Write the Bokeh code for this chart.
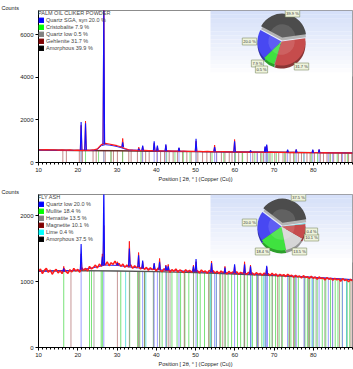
import numpy as np
from bokeh.plotting import figure
from bokeh.layouts import column
from bokeh.models import Range1d, FixedTicker, Label, Legend, LegendItem
from bokeh.embed import file_html
from bokeh.resources import INLINE

FONT = "Liberation Sans"

# ---------------- shared 2θ axis ----------------
X_START, X_END = 10, 90
X_TICKS = [10, 20, 30, 40, 50, 60, 70, 80]
X_MINOR = list(range(10, 91))
X_LABEL = "Position [ 2θ, ° ] (Copper (Cu))"

# ---------------- sample 1: palm oil clinker powder ----------------
pc_title = "PALM OIL CLIKER POWDER"
pc_phases = ["Quartz SGA, syn", "Cristobalite", "Quartz low", "Gehlenite", "Amorphous"]
pc_percent = [20.0, 7.9, 0.5, 31.7, 39.9]
pc_yticks = [0, 2000, 4000, 6000]

# observed scan, sampled every 1°
pc_obs_2theta = list(range(10, 91))
pc_obs_counts = [600, 595, 605, 590, 600, 585, 595, 580, 590, 575,
                 585, 570, 580, 575, 590, 640, 840, 900, 870, 830,
                 790, 740, 660, 600, 580, 570, 565, 575, 555, 560,
                 545, 550, 540, 545, 535, 540, 530, 535, 525, 530,
                 520, 525, 515, 520, 510, 515, 505, 510, 500, 505,
                 495, 500, 490, 495, 488, 492, 482, 488, 480, 485,
                 475, 480, 472, 478, 468, 474, 465, 470, 462, 468,
                 458, 464, 455, 460, 452, 458, 450, 455, 448, 452, 445]
# fitted background
pc_bg_2theta = [10, 20, 30, 40, 50, 60, 70, 80, 90]
pc_bg_counts = [585, 568, 550, 530, 512, 496, 480, 466, 450]
# calculated profile between the peaks
pc_calc_2theta = [10, 20, 24, 25, 26, 27, 28, 29, 30, 31, 32, 33, 40, 50, 60, 70, 80, 90]
pc_calc_counts = [588, 570, 575, 615, 790, 840, 820, 790, 750, 700, 635, 592, 545, 515, 498, 483, 468, 452]
# reflections: position, local background, observed top, calculated top
pc_peak_pos = [20.86, 21.98, 26.64, 31.45, 35.55, 36.54, 39.47, 40.29, 42.45, 45.79,
               50.14, 54.87, 59.96, 64.03, 67.74, 68.14, 73.47, 75.66, 79.88, 81.49]
pc_peak_base = [585, 580, 860, 720, 570, 565, 558, 545, 540, 538,
                520, 512, 495, 490, 485, 482, 476, 470, 458, 462]
pc_peak_obs = [1750, 1950, 7600, 1130, 720, 760, 900, 740, 800, 680,
               1000, 820, 1080, 560, 720, 800, 580, 600, 590, 600]
pc_peak_calc = [1900, 1850, 7600, 950, 650, 800, 1000, 800, 850, 700,
                1120, 720, 1000, 560, 760, 850, 600, 620, 600, 620]
# reference patterns (stick positions)
pc_quartz_sga = [20.86, 26.64, 36.54, 39.47, 40.29, 42.45, 45.79, 50.14, 54.87, 55.33,
                 59.96, 64.03, 65.79, 67.74, 68.14, 68.32, 73.47, 75.66, 77.67, 79.88,
                 81.49, 83.84, 84.95, 87.44]
pc_cristobalite = [21.98, 25.3, 28.44, 31.46, 36.08, 42.66, 44.76, 46.9, 48.6, 54.2,
                   57.2, 60.2, 62.0, 65.1, 66.9, 68.7, 69.5, 70.6, 72.7, 75.3,
                   77.6, 79.5, 81.1, 84.3, 86.1, 88.7]
pc_quartz_low = [20.86, 26.64, 50.14, 59.96, 68.14]
pc_gehlenite = [16.2, 17.1, 20.4, 21.2, 23.9, 24.7, 27.0, 28.5, 29.1, 30.1,
                31.4, 33.0, 33.6, 35.2, 36.4, 37.3, 38.2, 40.2, 41.1, 42.1,
                43.3, 44.3, 45.4, 46.7, 47.8, 48.9, 50.6, 51.8, 52.9, 53.8,
                55.4, 56.6, 57.5, 58.6, 59.3, 61.0, 61.9, 63.2, 64.6, 65.7,
                66.6, 67.3, 69.0, 70.2, 71.2, 72.3, 73.0, 74.1, 75.0, 76.2,
                77.0, 78.4, 79.2, 80.3, 81.8, 82.6, 83.5, 84.3, 85.2, 86.4,
                87.2, 88.1, 89.0, 89.8]

# ---------------- sample 2: fly ash ----------------
fa_title = "FLY ASH"
fa_phases = ["Quartz low", "Mullite", "Hematite", "Magnetite", "Lime", "Amorphous"]
fa_percent = [20.0, 18.4, 13.5, 10.1, 0.4, 37.5]
fa_yticks = [0, 1000, 2000]

# observed scan, sampled every 0.5°
fa_obs_2theta = [10 + 0.5 * i for i in range(161)]
fa_obs_counts = [1150, 1190, 1120, 1170, 1200, 1140, 1175, 1110, 1160, 1185,
                 1130, 1165, 1120, 1195, 1150, 1125, 1180, 1145, 1200, 1160,
                 1185, 1140, 1210, 1170, 1200, 1160, 1230, 1190, 1215, 1250,
                 1205, 1265, 1230, 1290, 1250, 1300, 1240, 1285, 1260, 1310,
                 1250, 1275, 1230, 1265, 1215, 1250, 1220, 1255, 1200, 1240,
                 1210, 1235, 1190, 1225, 1185, 1215, 1170, 1210, 1180, 1200,
                 1160, 1205, 1175, 1150, 1195, 1165, 1185, 1140, 1180, 1155,
                 1190, 1145, 1175, 1160, 1135, 1180, 1150, 1170, 1140, 1185,
                 1150, 1165, 1130, 1175, 1145, 1160, 1125, 1170, 1140, 1165,
                 1130, 1155, 1120, 1160, 1135, 1150, 1115, 1155, 1125, 1145,
                 1120, 1150, 1110, 1140, 1125, 1145, 1105, 1140, 1115, 1130,
                 1100, 1135, 1110, 1125, 1095, 1130, 1105, 1120, 1090, 1125,
                 1095, 1115, 1080, 1110, 1090, 1105, 1075, 1110, 1085, 1095,
                 1065, 1095, 1070, 1085, 1055, 1090, 1060, 1075, 1045, 1080,
                 1050, 1070, 1035, 1070, 1045, 1055, 1025, 1060, 1035, 1050,
                 1020, 1050, 1025, 1040, 1005, 1045, 1015, 1030, 995, 1035,
                 1010]
fa_bg_2theta = [10, 20, 30, 40, 50, 60, 70, 80, 90]
fa_bg_counts = [1160, 1165, 1160, 1150, 1135, 1115, 1090, 1060, 1025]
fa_calc_2theta = [10, 20, 24, 27, 30, 34, 40, 50, 60, 70, 80, 90]
fa_calc_counts = [1155, 1170, 1210, 1250, 1245, 1215, 1180, 1150, 1125, 1100, 1065, 1030]
fa_peak_pos = [16.43, 20.86, 26.27, 26.64, 30.10, 33.15, 35.50, 36.54, 39.47, 40.85,
               42.45, 43.05, 49.48, 50.14, 54.09, 57.50, 59.96, 62.50, 64.01, 68.14]
fa_peak_base = [1150, 1180, 1240, 1250, 1250, 1230, 1220, 1200, 1190, 1180,
                1170, 1170, 1150, 1150, 1140, 1130, 1125, 1125, 1115, 1105]
fa_peak_obs = [1230, 1420, 1420, 1850, 1300, 1610, 1440, 1300, 1270, 1350,
               1250, 1260, 1250, 1300, 1310, 1230, 1240, 1300, 1250, 1220]
fa_peak_calc = [1200, 1570, 1380, 2500, 1280, 1500, 1400, 1320, 1280, 1300,
                1240, 1230, 1230, 1340, 1280, 1210, 1260, 1260, 1230, 1240]
fa_quartz_low = [20.86, 26.64, 36.54, 39.47, 40.29, 42.45, 45.79, 50.14, 54.87, 55.33,
                 59.96, 64.03, 65.79, 67.74, 68.14, 68.32, 73.47, 75.66, 77.67, 79.88,
                 81.49, 83.84, 84.95, 87.44]
fa_mullite = [16.43, 23.0, 23.5, 25.97, 26.27, 30.96, 33.23, 35.27, 35.8, 37.0,
              39.27, 40.87, 41.5, 42.59, 44.0, 45.3, 46.2, 47.3, 48.3, 49.5,
              50.5, 51.2, 52.3, 53.44, 54.0, 55.3, 56.4, 57.5, 58.3, 59.2,
              60.7, 61.5, 62.4, 63.2, 64.5, 65.6, 66.9, 67.8, 68.9, 69.5,
              70.4, 71.3, 72.1, 73.8, 74.3, 75.2, 76.2, 77.9, 78.5, 79.1,
              80.1, 81.0, 82.3, 83.2, 84.4, 85.6, 86.3, 87.4, 88.6, 89.3]
fa_hematite = [24.14, 33.15, 35.61, 39.28, 40.85, 43.52, 49.48, 54.09, 56.15, 57.59,
               62.45, 64.01, 66.03, 69.6, 71.94, 75.43, 77.73, 78.76, 80.71, 82.94,
               84.91, 88.54]
fa_magnetite = [18.27, 30.1, 35.42, 37.05, 43.05, 47.14, 53.39, 56.94, 62.52, 65.74,
                70.92, 73.95, 74.96, 78.93, 86.7, 89.62]
fa_lime = [32.2, 37.35, 53.85, 64.15, 67.37, 79.67, 88.5]

# ---------------- styling ----------------
LEGEND_COLORS_PC = ["#0000ff", "#00ff00", "#808080", "#800000", "#000000"]
LEGEND_COLORS_FA = ["#0000ff", "#00ff00", "#808080", "#800000", "#00ffff", "#000000"]
PIE_COLORS_PC = ["#4848f2", "#3fe23f", "#a8a8a8", "#c64c4c", "#4c4c4c"]
PIE_COLORS_FA = ["#4848f2", "#3fe23f", "#d6d6d6", "#c64c4c", "#44dede", "#4c4c4c"]

FIG_W = 353
FRAME_LEFT, FRAME_W = 38, 314


def shade(hex_color, f):
    c = [int(hex_color[i:i + 2], 16) for i in (1, 3, 5)]
    c = [max(0, min(255, int(v * f))) for v in c]
    return "#%02x%02x%02x" % tuple(c)


def mix(c1, c2, t):
    a = [int(c1[i:i + 2], 16) for i in (1, 3, 5)]
    b = [int(c2[i:i + 2], 16) for i in (1, 3, 5)]
    return "#%02x%02x%02x" % tuple(int(a[k] + (b[k] - a[k]) * t) for k in range(3))


def build_panel(height, frame_h, y_end, yticks, title, phases, percents,
                legend_colors, pie_colors, obs, bg, calc, peaks, sticks,
                pie_center, label_px, box_px, bg_color, obs_width):
    frame_top = 10
    p = figure(width=FIG_W, height=height,
               x_range=Range1d(X_START, X_END), y_range=Range1d(0, y_end),
               output_backend="svg", toolbar_location=None,
               min_border_left=FRAME_LEFT, min_border_right=1,
               min_border_top=frame_top, min_border_bottom=height - frame_top - frame_h)
    p.grid.visible = False
    p.outline_line_color = "#8c8c8c"
    p.background_fill_color = "white"
    p.border_fill_color = "white"

    # "Counts" caption above the y axis
    p.title.text = "Counts"
    p.title.align = "left"
    p.title.offset = -37
    p.title.standoff = 0
    p.title.text_font = FONT
    p.title.text_font_size = "5.5px"
    p.title.text_font_style = "normal"
    p.title.text_color = "#222222"

    xpx = FRAME_W / (X_END - X_START)
    ypx = frame_h / y_end

    def dx(px):
        return X_START + (px - FRAME_LEFT) / xpx

    def dy(py):
        return (frame_h - (py - frame_top)) / ypx

    # gradient panel behind the pie
    l, t, r, b = box_px
    nb = 16
    for i in range(nb):
        y0 = t + (b - t) * i / nb
        y1 = t + (b - t) * (i + 1) / nb
        col = mix("#d6e0f9", "#ffffff", i / (nb - 1))
        p.quad(left=dx(l), right=dx(r), top=dy(y0), bottom=dy(y1),
               fill_color=col, line_color=None)

    # reference sticks, drawn up to the background level
    for pos, col, alpha in sticks:
        tops = np.interp(pos, bg[0], bg[1])
        p.segment(x0=pos, y0=[0] * len(pos), x1=pos, y1=tops,
                  line_color=col, line_alpha=alpha, line_width=1)

    # background, calculated and observed profiles
    p.line(bg[0], bg[1], line_color=bg_color, line_width=1.4)
    p.line(calc[0], calc[1], line_color="#2020ff", line_width=1)
    p.line(obs[0], obs[1], line_color="#ff1a1a", line_width=obs_width)
    pos, base, top_obs, top_calc = peaks
    w = 0.2
    p.multi_line([[q - w, q, q + w] for q in pos],
                 [[b0, t0, b0] for b0, t0 in zip(base, top_obs)],
                 line_color="#ff1a1a", line_width=1)
    p.multi_line([[q - w, q, q + w] for q in pos],
                 [[b0, t0, b0] for b0, t0 in zip(base, top_calc)],
                 line_color="#1010ff", line_width=1.1)

    # phase pie: amorphous first (exploded), then the crystalline phases anticlockwise
    cx, cy = pie_center
    rad = 24
    n = len(phases)
    order = [n - 1] + list(range(n - 1))
    a = 8.0
    wedges = []
    for i in order:
        span = percents[i] * 3.6
        off = 4 if i == n - 1 else 0
        mid = np.radians(a + span / 2)
        ox, oy = off * np.cos(mid), off * np.sin(mid)
        wedges.append((i, a, a + span, ox, oy))
        a += span
    depth = 3
    for i, s, e, ox, oy in wedges:
        side = "#b4b4b4" if i == n - 1 else shade(pie_colors[i], 0.7)
        p.wedge(x=dx(cx + ox), y=dy(cy - oy + depth), radius=rad, radius_units="screen",
                start_angle=s, end_angle=e,
                start_angle_units="deg", end_angle_units="deg",
                fill_color=side, line_color=None)
    for i, s, e, ox, oy in wedges:
        p.wedge(x=dx(cx + ox), y=dy(cy - oy), radius=rad, radius_units="screen",
                start_angle=s, end_angle=e,
                start_angle_units="deg", end_angle_units="deg",
                fill_color=pie_colors[i], line_color=None)
        p.wedge(x=dx(cx + ox), y=dy(cy - oy), radius=rad * 0.55, radius_units="screen",
                start_angle=s, end_angle=e,
                start_angle_units="deg", end_angle_units="deg",
                fill_color="white", fill_alpha=0.12, line_color=None)

    for i, (lx, ly) in enumerate(label_px):
        p.add_layout(Label(x=dx(lx), y=dy(ly), text=f"{percents[i]:.1f} %",
                           text_font=FONT, text_font_size="4px", text_color="#333333",
                           text_align="center", text_baseline="middle",
                           background_fill_color="#eef3dc", border_line_color="#7f8f66",
                           border_line_width=0.6, padding=1))

    # phase legend; swatch quads sit outside the visible range
    items = []
    for name, pct, col in zip(phases, percents, legend_colors):
        rend = p.quad(left=[0], right=[1], top=[-20], bottom=[-30],
                      fill_color=col, line_color=col)
        items.append(LegendItem(label=f"{name} {pct:.1f} %", renderers=[rend]))
    leg = Legend(items=items, location="top_left", title=title,
                 margin=0, padding=1, spacing=1, glyph_width=6, glyph_height=6,
                 label_height=6, label_standoff=2, label_text_font=FONT,
                 label_text_font_size="5.5px", title_text_font=FONT,
                 title_text_font_size="5.5px", title_text_font_style="normal",
                 title_standoff=1, border_line_color=None, background_fill_alpha=0)
    p.add_layout(leg)

    # axes
    p.xaxis.ticker = FixedTicker(ticks=X_TICKS, minor_ticks=X_MINOR)
    p.yaxis.ticker = FixedTicker(ticks=yticks, minor_ticks=[])
    p.xaxis.axis_label = X_LABEL
    for ax in (p.xaxis, p.yaxis):
        ax.major_label_text_font = FONT
        ax.major_label_text_font_size = "6px"
        ax.major_label_text_color = "#222222"
        ax.axis_line_color = "black"
        ax.major_tick_line_color = "black"
        ax.minor_tick_line_color = "black"
        ax.major_tick_out = 3
        ax.major_tick_in = 0
        ax.minor_tick_out = 2
        ax.minor_tick_in = 0
        ax.major_label_standoff = 2
    p.xaxis.axis_label_text_font = FONT
    p.xaxis.axis_label_text_font_size = "5.5px"
    p.xaxis.axis_label_text_font_style = "normal"
    p.xaxis.axis_label_text_color = "#222222"
    p.xaxis.axis_label_standoff = 1
    return p


top = build_panel(
    height=184, frame_h=152, y_end=7150, yticks=pc_yticks,
    title=pc_title, phases=pc_phases, percents=pc_percent,
    legend_colors=LEGEND_COLORS_PC, pie_colors=PIE_COLORS_PC,
    obs=(pc_obs_2theta, pc_obs_counts), bg=(pc_bg_2theta, pc_bg_counts),
    calc=(pc_calc_2theta, pc_calc_counts),
    peaks=(pc_peak_pos, pc_peak_base, pc_peak_obs, pc_peak_calc),
    sticks=[(pc_gehlenite, "#9c3c3c", 0.6), (pc_cristobalite, "#55d855", 0.7),
            (pc_quartz_sga, "#7c7cff", 0.7), (pc_quartz_low, "#9a9a9a", 0.7)],
    pie_center=(281, 41),
    label_px=[(249, 41), (257, 63), (261, 69), (301, 66), (292, 13)],
    box_px=(210, 10, 352, 76),
    bg_color="#6a2a2a", obs_width=1.2,
)

bottom = build_panel(
    height=185, frame_h=153, y_end=2320, yticks=fa_yticks,
    title=fa_title, phases=fa_phases, percents=fa_percent,
    legend_colors=LEGEND_COLORS_FA, pie_colors=PIE_COLORS_FA,
    obs=(fa_obs_2theta, fa_obs_counts), bg=(fa_bg_2theta, fa_bg_counts),
    calc=(fa_calc_2theta, fa_calc_counts),
    peaks=(fa_peak_pos, fa_peak_base, fa_peak_obs, fa_peak_calc),
    sticks=[(fa_mullite, "#4cd84c", 0.75), (fa_magnetite, "#a05050", 0.6),
            (fa_hematite, "#9a948a", 0.75), (fa_lime, "#3fd8d8", 0.75),
            (fa_quartz_low, "#7c7cff", 0.75)],
    pie_center=(281, 42),
    label_px=[(249, 38), (262, 67), (299, 67), (311, 53), (311, 47), (298, 13)],
    box_px=(210, 10, 352, 78),
    bg_color="#555555", obs_width=1.5,
)

layout = column(top, bottom, spacing=0)
open("out.html", "w").write(file_html(layout, INLINE))
